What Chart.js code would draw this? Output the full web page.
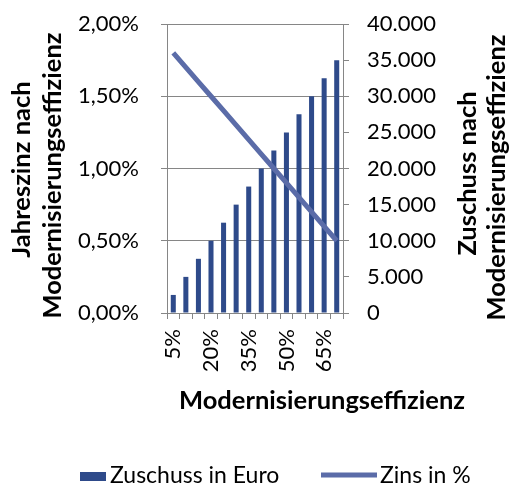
<!DOCTYPE html>
<html lang="de">
<head>
<meta charset="UTF-8">
<title>Zuschuss und Zins nach Modernisierungseffizienz</title>
<style>
  html, body { margin: 0; padding: 0; background: #fff; }
  #wrap { position: relative; width: 511px; height: 485px; }
</style>
</head>
<body>
<div id="wrap"><canvas id="grafico"></canvas></div>
<script src="https://cdn.jsdelivr.net/npm/chart.js"></script>
<script>
// Daten
const kategorien = ['5%', '10%', '15%', '20%', '25%', '30%', '35%', '40%', '45%', '50%', '55%', '60%', '65%', '70%'];
const zuschuss = [2500, 5000, 7500, 10000, 12500, 15000, 17500, 20000, 22500, 25000, 27500, 30000, 32500, 35000];
const zins = [1.8, 1.7, 1.6, 1.5, 1.4, 1.3, 1.2, 1.1, 1.0, 0.9, 0.8, 0.7, 0.6, 0.5];

const farbeBalken = '#2E4A8A';
const farbeLinie = '#5B6CA8';
const grau = '#868686';
const schrift = "Lato, 'Open Sans', sans-serif";

Chart.defaults.font.family = schrift;
Chart.defaults.font.size = 22;
Chart.defaults.color = '#000';

function tausender(v) {
  return String(v).replace(/\B(?=(\d{3})+(?!\d))/g, '.');
}

// feste Breite, ohne Zusatzabstand oben/unten
function festeBreite(breite) {
  return s => {
    s.width = breite;
    s.paddingTop = 0;
    s.paddingBottom = 0;
  };
}

// Achsentitel und Legende selbst zeichnen (rechter Titel liest von unten nach oben)
const beschriftung = {
  id: 'beschriftung',
  afterDraw(chart) {
    const ctx = chart.ctx;
    const mitte = (chart.chartArea.top + chart.chartArea.bottom) / 2;
    ctx.save();
    ctx.fillStyle = '#000';
    ctx.textAlign = 'center';
    ctx.textBaseline = 'middle';
    ctx.font = 'bold 25.5px ' + schrift;
    function senkrecht(text, x, y) {
      ctx.save();
      ctx.translate(x, y);
      ctx.rotate(-Math.PI / 2);
      ctx.fillText(text, 0, 0);
      ctx.restore();
    }
    senkrecht('Jahreszinz nach', 22, mitte + 1);
    senkrecht('Modernisierungseffizienz', 53, mitte + 7);
    senkrecht('Zuschuss nach', 468, mitte + 5);
    senkrecht('Modernisierungseffizienz', 497, mitte + 9);
    ctx.fillText('Modernisierungseffizienz', 322, 401);

    // Legende
    const ds = chart.data.datasets;
    ctx.font = '23px ' + schrift;
    ctx.textAlign = 'left';
    ctx.fillStyle = ds[0].backgroundColor;
    ctx.fillRect(80, 472, 26, 9);
    ctx.fillStyle = '#000';
    ctx.fillText(ds[0].label, 110, 476);
    ctx.strokeStyle = ds[1].borderColor;
    ctx.lineWidth = 5;
    ctx.beginPath();
    ctx.moveTo(321, 475);
    ctx.lineTo(377, 475);
    ctx.stroke();
    ctx.fillText(ds[1].label, 380, 476);
    ctx.restore();
  }
};

const ctx = document.getElementById('grafico').getContext('2d');
new Chart(ctx, {
  type: 'bar',
  data: {
    labels: kategorien,
    datasets: [{
      label: 'Zuschuss in Euro',
      data: zuschuss,
      backgroundColor: farbeBalken,
      yAxisID: 'yRechts',
      barPercentage: 0.4,
      categoryPercentage: 1,
      order: 1
    }, {
      type: 'line',
      label: 'Zins in %',
      data: zins,
      borderColor: farbeLinie,
      backgroundColor: farbeLinie,
      borderWidth: 5,
      pointRadius: 0,
      fill: false,
      yAxisID: 'yLinks',
      order: 0
    }]
  },
  options: {
    responsive: true,
    maintainAspectRatio: false,
    animation: false,
    layout: { padding: { top: 24, left: 0, right: 0, bottom: 112 } },
    plugins: {
      legend: { display: false },
      tooltip: { enabled: false }
    },
    scales: {
      x: {
        offset: true,
        afterFit: s => { s.height = 60; },
        grid: { offset: true, drawOnChartArea: false, color: grau, tickLength: 6 },
        border: { color: grau },
        ticks: {
          autoSkip: false,
          minRotation: 90,
          maxRotation: 90,
          padding: 10,
          callback: (v, i) => i % 3 === 0 ? kategorien[i] : ''
        }
      },
      yLinks: {
        position: 'left',
        min: 0,
        max: 2,
        afterFit: festeBreite(167),
        grid: { color: grau, tickLength: 6 },
        border: { color: grau },
        ticks: {
          stepSize: 0.5,
          padding: 22,
          callback: v => v.toFixed(2).replace('.', ',') + '%'
        }
      },
      yRechts: {
        position: 'right',
        min: 0,
        max: 40000,
        afterFit: festeBreite(168),
        grid: { drawOnChartArea: false, color: grau, tickLength: 6 },
        border: { color: grau },
        ticks: {
          stepSize: 5000,
          padding: 18,
          callback: v => tausender(v)
        }
      }
    }
  },
  plugins: [beschriftung]
});
</script>
</body>
</html>
